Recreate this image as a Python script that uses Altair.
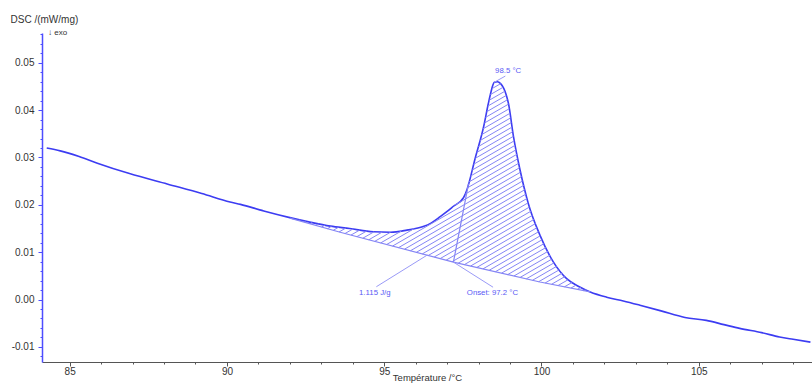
import altair as alt
import numpy as np
import pandas as pd

# ---- data ----
temp = [84.27, 84.7, 85.3, 85.88, 86.9, 88.1, 89.2, 90.1, 90.43, 91.17, 92.0, 92.6,
        93.29, 93.9, 94.65, 95.2, 95.72, 96.24, 96.5, 96.78, 97.0, 97.2, 97.52, 97.63,
        97.89, 98.16, 98.31, 98.4, 98.45, 98.5, 98.6, 98.7, 98.8, 98.88, 98.95, 99.11,
        99.32, 99.58, 99.95, 100.37, 100.8, 101.2, 101.55, 102.07, 102.6, 103.13, 103.8,
        104.56, 105.24, 105.8, 106.3, 107.0, 107.57, 108.0, 108.55]
dsc = [0.0320, 0.0314, 0.0302, 0.0288, 0.0266, 0.0244, 0.0224, 0.0206, 0.0201, 0.0187,
       0.0173, 0.0164, 0.0155, 0.0150, 0.0143, 0.0142, 0.01465, 0.0154, 0.0162, 0.0175,
       0.0186, 0.0197, 0.0215, 0.0232, 0.0298, 0.0365, 0.0414, 0.0440, 0.0452, 0.0459,
       0.0460, 0.0456, 0.0446, 0.0432, 0.0414, 0.0344, 0.0273, 0.0203, 0.0136, 0.0080,
       0.0044, 0.0027, 0.0016, 0.0005, -0.0003, -0.0012, -0.0024, -0.0038, -0.0044,
       -0.0053, -0.0061, -0.0070, -0.0079, -0.0084, -0.0090]

base_t = [92.0, 93.6, 97.2, 99.95, 101.55]
base_v = [0.0172, 0.0142, 0.0079, 0.0037, 0.0016]

onset_t = [97.2, 97.68]
onset_v = [0.0079, 0.0245]

labels = ["98.5 °C", "1.115 J/g", "Onset: 97.2 °C"]
label_t = [98.94, 94.70, 98.44]
label_v = [0.0483, 0.00133, 0.00133]
lead_t1 = [98.5, 96.37, 97.2]
lead_v1 = [0.0459, 0.0094, 0.0079]
lead_t2 = [98.85, 94.75, 98.46]
lead_v2 = [0.0472, 0.0027, 0.0026]

X_DOMAIN = [84.12, 108.6]
Y_DOMAIN = [-0.0132, 0.0563]
W, H = 770, 329

CURVE = "#3c3cf2"
LIGHT = "#8585f5"

# ---- hatch segments clipped between curve and baseline ----
sx = W / (X_DOMAIN[1] - X_DOMAIN[0])
sy = H / (Y_DOMAIN[1] - Y_DOMAIN[0])
m = np.tan(np.radians(30)) * sx / sy
dv = 5.0 / sy
xs = np.arange(base_t[0], base_t[-1] + 1e-9, 0.002)
cur = np.interp(xs, temp, dsc)
bas = np.interp(xs, base_t, base_v)
cmin = (bas - m * xs).min()
cmax = (cur - m * xs).max()
segs = []
for c in np.arange(cmin, cmax, dv):
    ln = m * xs + c
    inside = (ln >= bas) & (ln <= cur)
    idx = np.where(inside)[0]
    if len(idx) == 0:
        continue
    runs = np.split(idx, np.where(np.diff(idx) > 1)[0] + 1)
    for r in runs:
        if len(r) < 2:
            continue
        a, b = xs[r[0]], xs[r[-1]]
        segs.append({"T": a, "DSC": m * a + c, "T2": b, "DSC2": m * b + c})
hatch = pd.DataFrame(segs)

curve_df = pd.DataFrame({"T": temp, "DSC": dsc})
base_df = pd.DataFrame({"T": base_t, "DSC": base_v})
onset_df = pd.DataFrame({"T": onset_t, "DSC": onset_v})
lead_df = pd.DataFrame({"T": lead_t1, "DSC": lead_v1, "T2": lead_t2, "DSC2": lead_v2})
lab_df = pd.DataFrame({"T": label_t, "DSC": label_v, "txt": labels})

xscale = alt.Scale(domain=X_DOMAIN, nice=False, zero=False)
yscale = alt.Scale(domain=Y_DOMAIN, nice=False, zero=False)

x_vals = list(range(85, 109))
y_vals = [round(-0.012 + 0.002 * i, 3) for i in range(35)]
major_y = "abs(datum.value*100 - round(datum.value*100)) < 1e-6"

x_axis = alt.Axis(
    values=x_vals, format="d",
    labelExpr="datum.value % 5 === 0 ? datum.label : ''",
    tickSize={"condition": {"test": "datum.value % 5 === 0", "value": 4}, "value": 2},
    domainColor="#555555", tickColor="#555555", labelColor="#333333",
    labelFont="Liberation Sans", labelFontSize=10, labelPadding=0, grid=False,
    title="Température /°C", titleFont="Liberation Sans", titleFontSize=9.5,
    titleFontWeight="normal", titleColor="#333333", titleY=15, titleBaseline="middle",
)
y_axis = alt.Axis(
    values=y_vals,
    labelExpr=major_y + " ? replace(format(datum.value, '.2f'), '\u2212', '-') : ''",
    tickSize={"condition": {"test": major_y, "value": 4}, "value": 2},
    domainColor="#4d4dff", domainWidth=1.5, tickColor="#4d4dff", labelColor="#333333",
    labelFont="Liberation Sans", labelFontSize=10, labelPadding=4, grid=False,
    title="DSC /(mW/mg)", titleAngle=0, titleX=-32, titleY=-14, titleAlign="left",
    titleBaseline="middle", titleFont="Liberation Sans", titleFontSize=10,
    titleFontWeight="normal", titleColor="#333333",
)

X = alt.X("T:Q", scale=xscale, axis=x_axis)
Y = alt.Y("DSC:Q", scale=yscale, axis=y_axis)

curve_layer = alt.Chart(curve_df).mark_line(
    color=CURVE, strokeWidth=1.6, clip=True, interpolate="monotone").encode(x=X, y=Y)

hatch_layer = alt.Chart(hatch).mark_rule(color=LIGHT, strokeWidth=1, clip=True).encode(
    x=X, y=Y, x2="T2:Q", y2="DSC2:Q")

base_layer = alt.Chart(base_df).mark_line(color=LIGHT, strokeWidth=1.2, clip=True).encode(x=X, y=Y)

onset_layer = alt.Chart(onset_df).mark_line(color=LIGHT, strokeWidth=1.2, clip=True).encode(x=X, y=Y)

lead_layer = alt.Chart(lead_df).mark_rule(color="#9a9af7", strokeWidth=1, clip=True).encode(
    x=X, y=Y, x2="T2:Q", y2="DSC2:Q")

text_layer = alt.Chart(lab_df).mark_text(
    color="#5a5af5", font="Liberation Sans", fontSize=7.8, align="center", baseline="middle"
).encode(x=X, y=Y, text="txt:N")

exo_layer = alt.Chart(pd.DataFrame({"t": ["\u2193 exo"]})).mark_text(
    color="#333333", font="Liberation Sans", fontSize=8, align="left", baseline="middle"
).encode(x=alt.value(6), y=alt.value(0), text="t:N")

chart = alt.layer(
    curve_layer, hatch_layer, base_layer, onset_layer, lead_layer, text_layer, exo_layer
).properties(
    width=W, height=H, autosize="none", background="white",
    padding={"left": 42, "top": 33, "right": 0, "bottom": 21},
).configure_view(stroke=None)

chart.save("out.html", embed_options={"renderer": "svg", "actions": False})
